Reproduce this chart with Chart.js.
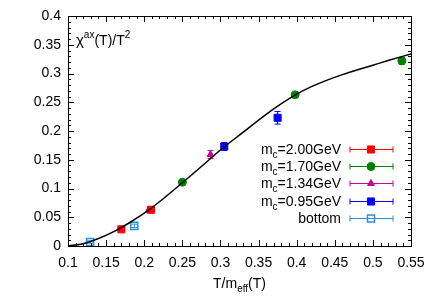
<!DOCTYPE html>
<html>
<head>
<meta charset="utf-8">
<script src="https://cdn.jsdelivr.net/npm/chart.js@4"></script>
<style>
  html, body { margin: 0; padding: 0; background: #fff; }
  #wrap { width: 436px; height: 305px; }
</style>
</head>
<body>
<div id="wrap"><canvas id="chart" width="436" height="305"></canvas></div>
<script>
// данные
const curveX = [0.1, 0.12, 0.14, 0.16, 0.18, 0.2, 0.22, 0.25, 0.28, 0.3, 0.33, 0.36, 0.38, 0.4, 0.42, 0.44, 0.46, 0.48, 0.5, 0.52, 0.55];
const curveY = [0, 0.004, 0.013, 0.025, 0.040, 0.057, 0.077, 0.110, 0.144, 0.167, 0.198, 0.229, 0.2475, 0.264, 0.2775, 0.2885, 0.298, 0.3065, 0.3145, 0.3225, 0.334];

const mass200X = [0.170, 0.209];
const mass200Y = [0.029, 0.063];
const mass200E = [0.002, 0.003];

const mass170X = [0.250, 0.398, 0.538];
const mass170Y = [0.111, 0.263, 0.322];
const mass170E = [0.002, 0.003, 0.006];

const mass134X = [0.206, 0.287];
const mass134Y = [0.062, 0.159];
const mass134E = [0.002, 0.007];

const mass095X = [0.305, 0.375];
const mass095Y = [0.173, 0.223];
const mass095E = [0.007, 0.011];

const bottomX = [0.129, 0.187];
const bottomY = [0.007, 0.035];
const bottomE = [0.002, 0.003];

const FONT = '"Liberation Sans", Arial, Helvetica, sans-serif';

function pts(xs, ys) {
    return xs.map((x, i) => ({ x: x, y: ys[i] }));
}

// серии с точками
const series = [
    { name: '2.00GeV', sub: true, x: mass200X, y: mass200Y, e: mass200E, color: '#ff0000', style: 'rect', r: 5, fill: true },
    { name: '1.70GeV', sub: true, x: mass170X, y: mass170Y, e: mass170E, color: '#008000', style: 'circle', r: 4, fill: true },
    { name: '1.34GeV', sub: true, x: mass134X, y: mass134Y, e: mass134E, color: '#cc0099', style: 'triangle', r: 4, fill: true },
    { name: '0.95GeV', sub: true, x: mass095X, y: mass095Y, e: mass095E, color: '#0000ff', style: 'rect', r: 5, fill: true },
    { name: 'bottom', sub: false, x: bottomX, y: bottomY, e: bottomE, color: '#2a8fd6', style: 'rect', r: 5, fill: false }
];

const datasets = [{
    type: 'line',
    data: pts(curveX, curveY),
    borderColor: '#000',
    borderWidth: 1.5,
    pointRadius: 0,
    cubicInterpolationMode: 'monotone',
    fill: false
}];
series.forEach(s => {
    datasets.push({
        type: 'scatter',
        data: pts(s.x, s.y),
        errors: s.e,
        pointStyle: s.style,
        pointRadius: s.r,
        pointHoverRadius: s.r,
        backgroundColor: s.fill ? s.color : 'rgba(0,0,0,0)',
        borderColor: s.color,
        borderWidth: s.fill ? 1 : 1.5
    });
});

// планки погрешностей
const errorBars = {
    id: 'errorBars',
    beforeDatasetsDraw(chart) {
        const ctx = chart.ctx;
        const ys = chart.scales.y;
        chart.data.datasets.forEach((ds, i) => {
            if (!ds.errors) return;
            const meta = chart.getDatasetMeta(i);
            ctx.save();
            ctx.strokeStyle = ds.borderColor;
            ctx.lineWidth = 1;
            meta.data.forEach((el, j) => {
                const v = ds.data[j].y;
                const top = ys.getPixelForValue(v + ds.errors[j]);
                const bot = ys.getPixelForValue(v - ds.errors[j]);
                ctx.beginPath();
                ctx.moveTo(el.x, top); ctx.lineTo(el.x, bot);
                ctx.moveTo(el.x - 3, top); ctx.lineTo(el.x + 3, top);
                ctx.moveTo(el.x - 3, bot); ctx.lineTo(el.x + 3, bot);
                ctx.stroke();
            });
            ctx.restore();
        });
    }
};

// рамка, тики внутрь, подписи и легенда
const frame = {
    id: 'frame',
    afterDraw(chart) {
        const ctx = chart.ctx;
        const a = chart.chartArea;
        const xs = chart.scales.x, ys = chart.scales.y;
        ctx.save();
        ctx.strokeStyle = '#000';
        ctx.lineWidth = 1;
        ctx.strokeRect(Math.round(a.left) + 0.5, Math.round(a.top) + 0.5,
            Math.round(a.right - a.left), Math.round(a.bottom - a.top));
        ctx.beginPath();
        for (let k = 0; k <= 45; k++) {
            const v = 0.1 + k * 0.01;
            const px = Math.round(xs.getPixelForValue(v)) + 0.5;
            const len = k % 5 === 0 ? 6 : 3;
            ctx.moveTo(px, a.bottom); ctx.lineTo(px, a.bottom - len);
            ctx.moveTo(px, a.top); ctx.lineTo(px, a.top + len);
        }
        for (let k = 0; k <= 40; k++) {
            const v = k * 0.01;
            const py = Math.round(ys.getPixelForValue(v)) + 0.5;
            const len = k % 5 === 0 ? 6 : 3;
            ctx.moveTo(a.left, py); ctx.lineTo(a.left + len, py);
            ctx.moveTo(a.right, py); ctx.lineTo(a.right - len, py);
        }
        ctx.stroke();

        ctx.fillStyle = '#000';
        ctx.textBaseline = 'alphabetic';
        // подпись оси y внутри графика
        let x = a.left + 8;
        const yb = 45;
        ctx.font = '15px ' + FONT;
        ctx.textAlign = 'left';
        ctx.fillText('χ', x, yb); x += ctx.measureText('χ').width;
        ctx.font = '10px ' + FONT;
        ctx.fillText('ax', x, yb - 7); x += ctx.measureText('ax').width;
        ctx.font = '14px ' + FONT;
        ctx.fillText('(T)/T', x, yb); x += ctx.measureText('(T)/T').width;
        ctx.font = '10px ' + FONT;
        ctx.fillText('2', x, yb - 7);

        // подпись оси x
        ctx.font = '14px ' + FONT;
        const w1 = ctx.measureText('T/m').width, w3 = ctx.measureText('(T)').width;
        ctx.font = '10px ' + FONT;
        const w2 = ctx.measureText('eff').width;
        let tx = (a.left + a.right) / 2 - (w1 + w2 + w3) / 2;
        const tb = 288;
        ctx.font = '14px ' + FONT;
        ctx.fillText('T/m', tx, tb); tx += w1;
        ctx.font = '10px ' + FONT;
        ctx.fillText('eff', tx, tb + 4); tx += w2;
        ctx.font = '14px ' + FONT;
        ctx.fillText('(T)', tx, tb);

        // легенда
        const textRight = 341, lx0 = 350, lx1 = 393, mx = 371;
        series.forEach((s, i) => {
            const ly = 149 + i * 17.2;
            const base = ly + 5;
            ctx.fillStyle = '#000';
            if (s.sub) {
                ctx.font = '14px ' + FONT;
                const wm = ctx.measureText('m').width;
                const wr = ctx.measureText('=' + s.name).width;
                ctx.font = '10px ' + FONT;
                const wc = ctx.measureText('c').width;
                let p = textRight - wm - wc - wr;
                ctx.font = '14px ' + FONT;
                ctx.fillText('m', p, base); p += wm;
                ctx.font = '10px ' + FONT;
                ctx.fillText('c', p, base + 4); p += wc;
                ctx.font = '14px ' + FONT;
                ctx.fillText('=' + s.name, p, base);
            } else {
                ctx.font = '14px ' + FONT;
                ctx.textAlign = 'right';
                ctx.fillText(s.name, textRight, base);
                ctx.textAlign = 'left';
            }
            const py = Math.round(ly) + 0.5;
            ctx.strokeStyle = s.color;
            ctx.lineWidth = 1;
            ctx.beginPath();
            ctx.moveTo(lx0, py); ctx.lineTo(lx1, py);
            ctx.moveTo(lx0, py - 3); ctx.lineTo(lx0, py + 3);
            ctx.moveTo(lx1, py - 3); ctx.lineTo(lx1, py + 3);
            ctx.stroke();
            ctx.fillStyle = s.fill ? s.color : 'rgba(0,0,0,0)';
            ctx.lineWidth = s.fill ? 1 : 1.5;
            Chart.helpers.drawPoint(ctx, { pointStyle: s.style, radius: s.r, rotation: 0, borderWidth: ctx.lineWidth }, mx, py);
        });
        ctx.restore();
    }
};

new Chart(document.getElementById('chart'), {
    type: 'scatter',
    data: { datasets: datasets },
    options: {
        responsive: false,
        animation: false,
        layout: { padding: { left: 0, right: 25, top: 16, bottom: 0 } },
        plugins: { legend: { display: false }, tooltip: { enabled: false } },
        scales: {
            x: {
                type: 'linear',
                min: 0.1,
                max: 0.55,
                grid: { display: false, drawTicks: false },
                border: { display: false },
                ticks: {
                    stepSize: 0.05,
                    padding: 9,
                    color: '#000',
                    font: { family: FONT, size: 14 },
                    maxRotation: 0,
                    callback: v => +v.toFixed(2)
                },
                afterFit: axis => { axis.height = 59; }
            },
            y: {
                type: 'linear',
                min: 0,
                max: 0.4,
                grid: { display: false, drawTicks: false },
                border: { display: false },
                ticks: {
                    stepSize: 0.05,
                    padding: 7,
                    color: '#000',
                    font: { family: FONT, size: 14 },
                    callback: v => +v.toFixed(2)
                },
                afterFit: axis => { axis.width = 68; }
            }
        }
    },
    plugins: [errorBars, frame]
});
</script>
</body>
</html>
